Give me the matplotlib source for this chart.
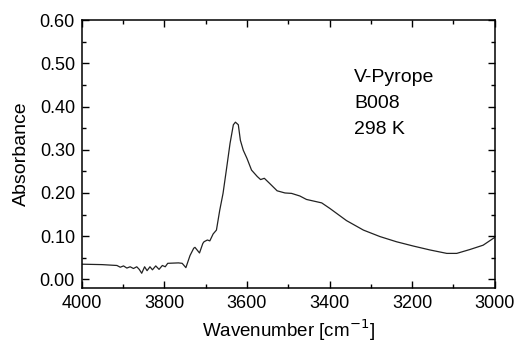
import matplotlib
matplotlib.use("Agg")
import matplotlib.pyplot as plt
from matplotlib.ticker import MultipleLocator

wavenumber = [4000, 3951, 3915, 3907, 3899, 3891, 3883, 3875, 3867, 3861, 3855, 3848,
              3842, 3835, 3829, 3821, 3813, 3805, 3798, 3792, 3766, 3757, 3748, 3738,
              3729, 3726, 3715, 3707, 3704, 3696, 3690, 3682, 3674, 3666, 3658, 3650,
              3641, 3633, 3628, 3621, 3616, 3609, 3600, 3589, 3575, 3567, 3558, 3545,
              3527, 3508, 3492, 3472, 3456, 3419, 3399, 3359, 3318, 3278, 3238, 3197,
              3157, 3116, 3092, 3060, 3028, 3000]
absorbance = [0.035, 0.034, 0.032, 0.028, 0.031, 0.026, 0.029, 0.025, 0.029, 0.023, 0.014, 0.029,
              0.020, 0.029, 0.022, 0.031, 0.023, 0.032, 0.029, 0.037, 0.038, 0.037, 0.027, 0.055,
              0.072, 0.074, 0.061, 0.083, 0.087, 0.091, 0.089, 0.105, 0.114, 0.160, 0.199, 0.253,
              0.315, 0.358, 0.364, 0.358, 0.322, 0.299, 0.280, 0.253, 0.238, 0.231, 0.234, 0.222,
              0.205, 0.200, 0.199, 0.193, 0.185, 0.177, 0.164, 0.136, 0.114, 0.099, 0.087, 0.077,
              0.068, 0.060, 0.060, 0.069, 0.079, 0.097]
x_ticks = [4000, 3800, 3600, 3400, 3200, 3000]
y_ticks = [0.00, 0.10, 0.20, 0.30, 0.40, 0.50, 0.60]
annotation = "V-Pyrope\nB008\n298 K"

plt.rcParams['font.family'] = ['Liberation Sans', 'DejaVu Sans']

fig = plt.figure(figsize=(5.18, 3.44), dpi=100)
ax = fig.add_axes([0.158, 0.163, 0.797, 0.778])
ax.plot(wavenumber, absorbance, color='#222222', lw=0.9)

ax.set_xlim(4000, 3000)
ax.set_ylim(-0.02, 0.60)
ax.set_xticks(x_ticks)
ax.set_xticklabels([str(t) for t in x_ticks])
ax.set_yticks(y_ticks)
ax.set_yticklabels([f"{t:.2f}" for t in y_ticks])
ax.xaxis.set_minor_locator(MultipleLocator(100))
ax.yaxis.set_minor_locator(MultipleLocator(0.05))
ax.tick_params(which='both', direction='in', top=True, right=True, labelsize=13, width=1, pad=5)
ax.tick_params(which='major', length=5)
ax.tick_params(which='minor', length=3)
for s in ax.spines.values():
    s.set_linewidth(1.1)

ax.set_xlabel("Wavenumber [cm$^{-1}$]", fontsize=13.5, labelpad=4)
ax.set_ylabel("Absorbance", fontsize=14, labelpad=7)
ax.text(3341, 0.408, annotation, fontsize=14, va='center', ha='left', linespacing=1.7,
        transform=ax.transData)

fig.savefig("out.png", dpi=100)
